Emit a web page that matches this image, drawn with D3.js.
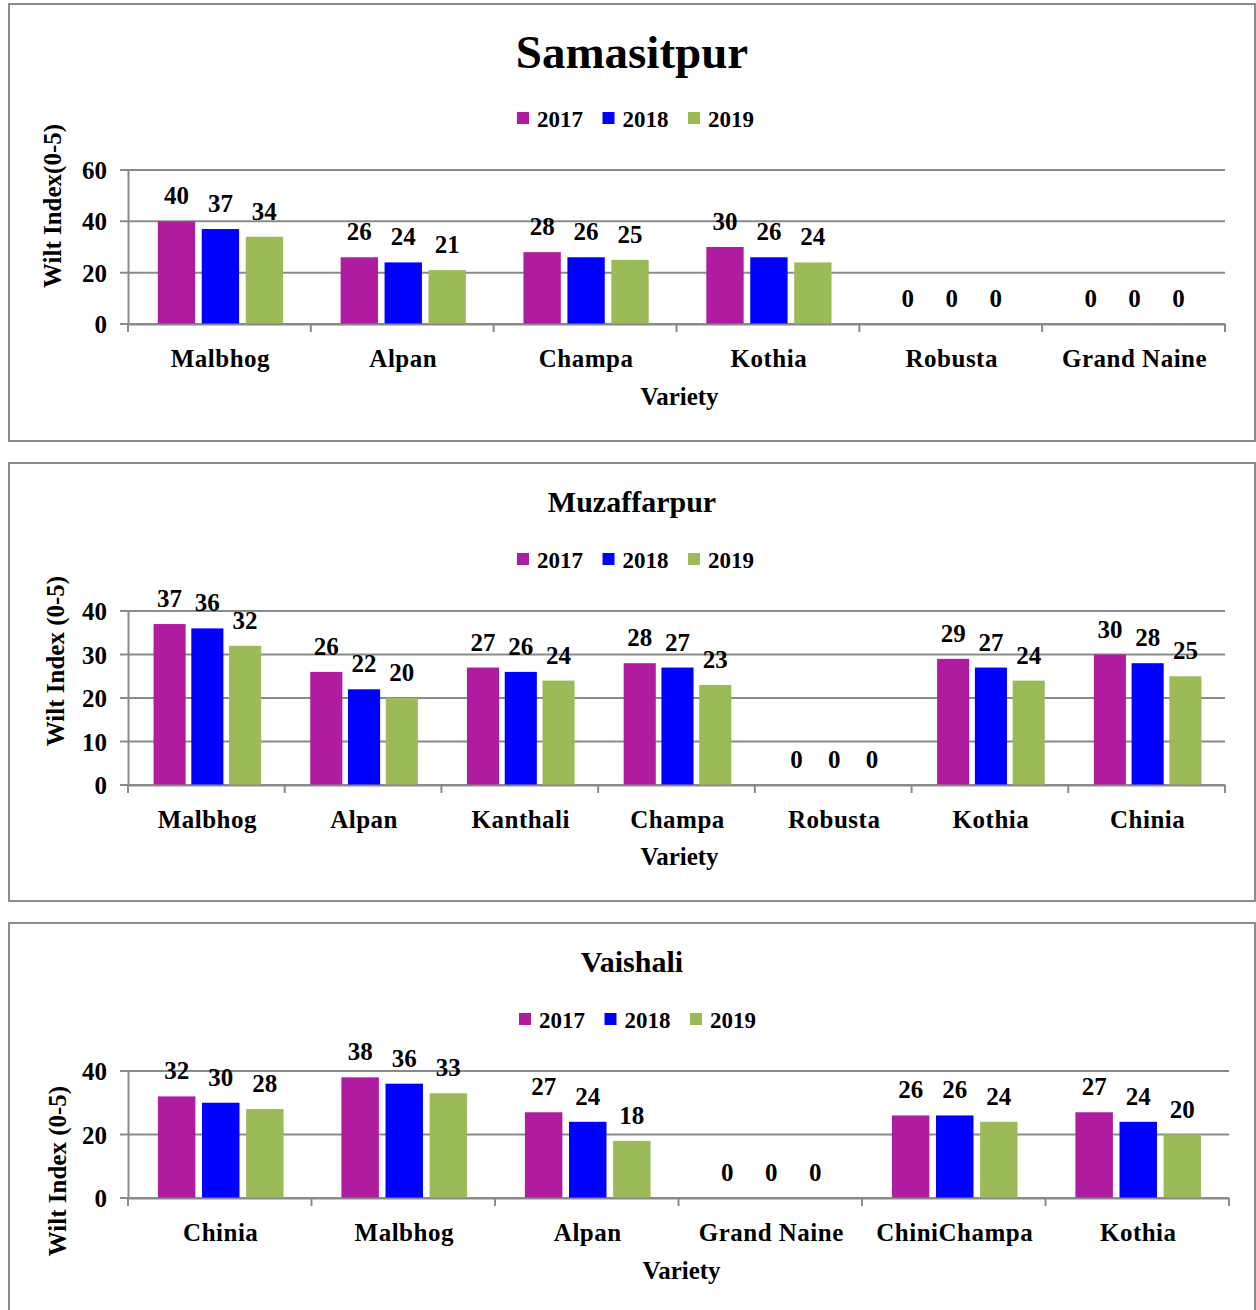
<!DOCTYPE html>
<html>
<head>
<meta charset="utf-8">
<script src="https://cdn.jsdelivr.net/npm/d3@7"></script>
<style>
  html, body { margin: 0; padding: 0; background: #fff; }
  svg { display: block; }
  text { font-family: "Liberation Serif", "Times New Roman", serif; font-weight: bold; fill: #000; }
</style>
</head>
<body>
<svg id="chart" width="1256" height="1310"></svg>
<script>
// ---------- data ----------
const years = ["2017", "2018", "2019"];
const seriesColors = ["#B01C9F", "#0000FF", "#9BBB59"];

const samCategories = ["Malbhog", "Alpan", "Champa", "Kothia", "Robusta", "Grand Naine"];
const sam2017 = [40, 26, 28, 30, 0, 0];
const sam2018 = [37, 24, 26, 26, 0, 0];
const sam2019 = [34, 21, 25, 24, 0, 0];
const samTicks = [0, 20, 40, 60];

const muzCategories = ["Malbhog", "Alpan", "Kanthali", "Champa", "Robusta", "Kothia", "Chinia"];
const muz2017 = [37, 26, 27, 28, 0, 29, 30];
const muz2018 = [36, 22, 26, 27, 0, 27, 28];
const muz2019 = [32, 20, 24, 23, 0, 24, 25];
const muzTicks = [0, 10, 20, 30, 40];

const vaiCategories = ["Chinia", "Malbhog", "Alpan", "Grand Naine", "ChiniChampa", "Kothia"];
const vai2017 = [32, 38, 27, 0, 26, 27];
const vai2018 = [30, 36, 24, 0, 26, 24];
const vai2019 = [28, 33, 18, 0, 24, 20];
const vaiTicks = [0, 20, 40];

// ---------- layout ----------
const panels = [
  { title: "Samasitpur", titleSize: 47, titleY: 68, yLabel: "Wilt Index(0-5)",
    cats: samCategories, vals: [sam2017, sam2018, sam2019], ticks: samTicks,
    box: [9, 4, 1246, 437], x0: 128, x1: 1225, yTop: 170, yBot: 324,
    legendY: 119, legendX: 517, yLabelX: 52, yLabelC: 206, catY: 367, varY: 405 },
  { title: "Muzaffarpur", titleSize: 30, titleY: 512, yLabel: "Wilt Index  (0-5)",
    cats: muzCategories, vals: [muz2017, muz2018, muz2019], ticks: muzTicks,
    box: [9, 463, 1246, 438], x0: 128, x1: 1225, yTop: 611, yBot: 785,
    legendY: 560, legendX: 517, yLabelX: 55, yLabelC: 661, catY: 828, varY: 865 },
  { title: "Vaishali", titleSize: 30, titleY: 972, yLabel: "Wilt Index  (0-5)",
    cats: vaiCategories, vals: [vai2017, vai2018, vai2019], ticks: vaiTicks,
    box: [9, 923, 1246, 400], x0: 128, x1: 1229, yTop: 1071, yBot: 1198,
    legendY: 1020, legendX: 519, yLabelX: 57, yLabelC: 1171, catY: 1241, varY: 1279 }
];

const svg = d3.select("#chart");
const grey = "#8A8A8A";

panels.forEach(p => {
  const g = svg.append("g");
  // border
  g.append("rect").attr("x", p.box[0]).attr("y", p.box[1])
    .attr("width", p.box[2]).attr("height", p.box[3])
    .attr("fill", "#fff").attr("stroke", grey).attr("stroke-width", 2);

  // title
  g.append("text").attr("x", 632).attr("y", p.titleY)
    .attr("text-anchor", "middle").attr("font-size", p.titleSize).text(p.title);

  // legend
  const leg = g.append("g").attr("transform", `translate(${p.legendX},${p.legendY})`);
  years.forEach((yr, i) => {
    const lx = i * 85.5;
    leg.append("rect").attr("x", lx).attr("y", -7).attr("width", 12).attr("height", 12)
      .attr("fill", seriesColors[i]);
    leg.append("text").attr("x", lx + 20).attr("y", 8).attr("font-size", 23).text(yr);
  });

  const maxV = d3.max(p.ticks);
  const y = d3.scaleLinear().domain([0, maxV]).range([p.yBot, p.yTop]);
  const x = d3.scaleBand().domain(p.cats).range([p.x0, p.x1]).padding(0);
  const margin = x.bandwidth() * 0.163;
  const xi = d3.scaleBand().domain(years).range([margin, x.bandwidth() - margin + 2])
    .paddingInner(0.15).paddingOuter(0);

  // gridlines
  g.append("g").selectAll("line").data(p.ticks).join("line")
    .attr("x1", p.x0 - 8).attr("x2", p.x1)
    .attr("y1", d => y(d)).attr("y2", d => y(d))
    .attr("stroke", grey).attr("stroke-width", 2);

  // y-axis
  const yAxis = d3.axisLeft(y).tickValues(p.ticks).tickSize(0).tickPadding(21);
  const ya = g.append("g").attr("transform", `translate(${p.x0},0)`).call(yAxis);
  ya.select(".domain").attr("stroke", grey).attr("stroke-width", 2);
  ya.selectAll("text").attr("font-size", 25).attr("font-family", "Liberation Serif")
    .attr("font-weight", "bold").attr("fill", "#000").attr("dy", "0.34em");

  // bars
  years.forEach((yr, si) => {
    g.append("g").selectAll("rect").data(p.cats).join("rect")
      .attr("x", d => x(d) + xi(yr))
      .attr("y", (d, i) => y(p.vals[si][i]))
      .attr("width", xi.bandwidth())
      .attr("height", (d, i) => y(0) - y(p.vals[si][i]))
      .attr("fill", seriesColors[si]);
    g.append("g").selectAll("text").data(p.cats).join("text")
      .attr("x", d => x(d) + xi(yr) + xi.bandwidth() / 2)
      .attr("y", (d, i) => y(p.vals[si][i]) - 17)
      .attr("text-anchor", "middle").attr("font-size", 25)
      .text((d, i) => p.vals[si][i]);
  });

  // x-axis
  const xAxis = d3.axisBottom(x).tickSize(0).tickFormat("");
  const xa = g.append("g").attr("transform", `translate(0,${p.yBot})`).call(xAxis);
  xa.select(".domain").attr("stroke", grey).attr("stroke-width", 2);
  const bounds = p.cats.map(c => x(c)).concat([p.x1]);
  g.append("g").selectAll("line").data(bounds).join("line")
    .attr("x1", d => d).attr("x2", d => d)
    .attr("y1", p.yBot).attr("y2", p.yBot + 8)
    .attr("stroke", grey).attr("stroke-width", 2);

  g.append("g").selectAll("text").data(p.cats).join("text")
    .attr("x", d => x(d) + x.bandwidth() / 2 + 1).attr("y", p.catY)
    .attr("text-anchor", "middle").attr("font-size", 25).attr("letter-spacing", 0.5)
    .text(d => d);

  // axis titles
  g.append("text").attr("x", (p.x0 + p.x1) / 2 + 3).attr("y", p.varY)
    .attr("text-anchor", "middle").attr("font-size", 25).text("Variety");
  g.append("text")
    .attr("transform", `translate(${p.yLabelX + 9},${p.yLabelC}) rotate(-90)`)
    .attr("text-anchor", "middle").attr("font-size", 25).text(p.yLabel);
});
</script>
</body>
</html>
